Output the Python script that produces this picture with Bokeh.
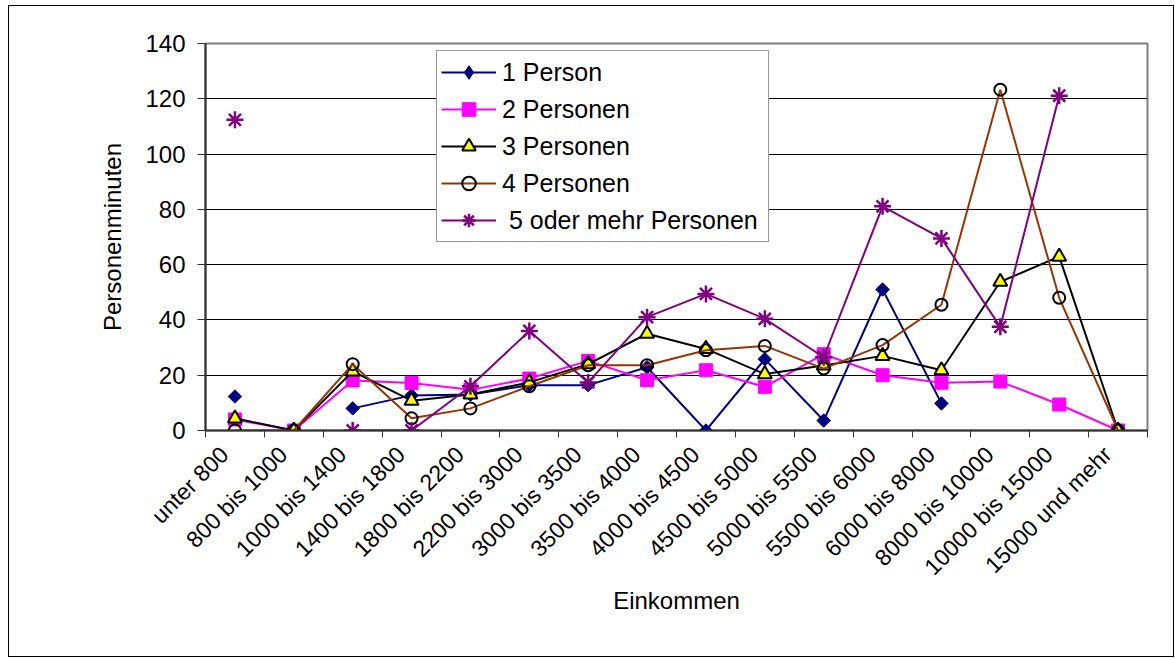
import math
import numpy as np
from bokeh.plotting import figure
from bokeh.models import FixedTicker, Range1d, Legend, LegendItem
from bokeh.embed import file_html
from bokeh.resources import INLINE

categories = ["unter 800", "800 bis 1000", "1000 bis 1400", "1400 bis 1800",
              "1800 bis 2200", "2200 bis 3000", "3000 bis 3500", "3500 bis 4000",
              "4000 bis 4500", "4500 bis 5000", "5000 bis 5500", "5500 bis 6000",
              "6000 bis 8000", "8000 bis 10000", "10000 bis 15000", "15000 und mehr"]

person1 = [12.3, None, 8.0, 12.7, 13.0, 16.4, 16.4, 22.9, 0.0, 25.8, 3.6, 51.0, 9.8, None, None, None]
person2 = [4.0, 0.0, 18.1, 17.2, 14.7, 18.8, 25.2, 18.2, 21.8, 15.8, 27.6, 20.0, 17.3, 17.7, 9.4, 0.0]
person3 = [4.4, 0.0, 21.4, 10.8, 13.0, 17.4, 24.0, 35.0, 29.5, 20.4, 23.5, 27.0, 21.8, 53.8, 62.9, 0.0]
person4 = [0.0, 0.0, 24.0, 4.4, 8.0, 16.0, 23.6, 23.6, 29.0, 30.6, 22.4, 30.9, 45.5, 123.3, 48.0, 0.0]
person5 = [112.4, None, 0.0, 0.0, 16.0, 36.0, 17.4, 41.0, 49.4, 40.4, 26.5, 81.1, 69.5, 37.5, 121.1, None]

series_names = ["1 Person", "2 Personen", "3 Personen", "4 Personen", " 5 oder mehr Personen"]

FONT = "Liberation Sans"
TXT = "black"

def arr(v):
    return np.array([np.nan if a is None else a for a in v], dtype=float)

x = np.arange(len(categories), dtype=float)

p = figure(width=1166, height=652, output_backend="svg", toolbar_location=None,
           x_range=Range1d(-0.5, len(categories) - 0.5), y_range=Range1d(0, 140),
           min_border_left=196, min_border_right=28, min_border_top=37, min_border_bottom=228)
p.styles = {"border": "1px solid black", "margin-left": "8px", "margin-top": "5px"}
p.background_fill_color = "white"
p.border_fill_color = "white"
p.outline_line_color = "#808080"
p.outline_line_width = 2

# grid
p.xgrid.grid_line_color = None
p.ygrid.grid_line_color = "black"
p.ygrid.grid_line_width = 1
p.ygrid.ticker = FixedTicker(ticks=[20, 40, 60, 80, 100, 120])

# y axis
p.yaxis.ticker = FixedTicker(ticks=[0, 20, 40, 60, 80, 100, 120, 140])
p.yaxis.axis_label = "Personenminuten"
p.yaxis.axis_label_text_font = FONT
p.yaxis.axis_label_text_font_size = "24px"
p.yaxis.axis_label_text_font_style = "normal"
p.yaxis.axis_label_text_color = TXT
p.yaxis.axis_label_standoff = 16
p.yaxis.major_label_text_font = FONT
p.yaxis.major_label_text_font_size = "24px"
p.yaxis.major_label_text_color = TXT
p.yaxis.major_label_standoff = 12
p.yaxis.major_tick_out = 8
p.yaxis.major_tick_in = 0
p.yaxis.minor_tick_out = 0
p.yaxis.minor_tick_in = 0
p.yaxis.axis_line_color = "#333333"
p.yaxis.axis_line_width = 2
p.yaxis.major_tick_line_color = "#333333"

# x axis: labels placed slightly left of the category centre, ticks at boundaries
label_pos = [round(i - 0.18, 2) for i in range(len(categories))]
p.xaxis.ticker = FixedTicker(ticks=label_pos,
                             minor_ticks=[i - 0.5 for i in range(len(categories) + 1)])
p.xaxis.major_label_overrides = {pos: c for pos, c in zip(label_pos, categories)}
p.xaxis.major_label_orientation = math.pi / 4
p.xaxis.major_label_text_font = FONT
p.xaxis.major_label_text_font_size = "23px"
p.xaxis.major_label_text_color = TXT
p.xaxis.major_tick_out = 0
p.xaxis.major_tick_in = 0
p.xaxis.minor_tick_out = 7
p.xaxis.minor_tick_in = 0
p.xaxis.minor_tick_line_color = "#333333"
p.xaxis.axis_line_color = "#333333"
p.xaxis.axis_line_width = 2
p.xaxis.major_label_standoff = 13
p.xaxis.axis_label = "Einkommen"
p.xaxis.axis_label_text_font = FONT
p.xaxis.axis_label_text_font_size = "24px"
p.xaxis.axis_label_text_font_style = "normal"
p.xaxis.axis_label_text_color = TXT
p.xaxis.axis_label_standoff = -5

items = []
nan_y = [np.nan]

r1l = p.line(x, arr(person1), line_color="#000080", line_width=2)
p.scatter(x, arr(person1), marker="square", angle=math.pi / 4, size=9.5,
          fill_color="#000080", line_color="#000080")
r1k = p.scatter([0.0], nan_y, marker="diamond", size=17,
                fill_color="#000080", line_color="#000080")
items.append(LegendItem(label=series_names[0], renderers=[r1l, r1k]))

r2l = p.line(x, arr(person2), line_color="#FF00FF", line_width=2)
r2m = p.scatter(x, arr(person2), marker="square", size=13,
                fill_color="#FF00FF", line_color="#FF00FF")
items.append(LegendItem(label=series_names[1], renderers=[r2l, r2m]))

r3l = p.line(x, arr(person3), line_color="black", line_width=2)
r3m = p.scatter(x, arr(person3), marker="triangle", size=14,
                fill_color="#FFFF00", line_color="black", line_width=2)
items.append(LegendItem(label=series_names[2], renderers=[r3l, r3m]))

r4l = p.line(x, arr(person4), line_color="#993300", line_width=2)
r4m = p.scatter(x, arr(person4), marker="circle", size=12,
                fill_color=None, line_color="black", line_width=2)
items.append(LegendItem(label=series_names[3], renderers=[r4l, r4m]))

r5l = p.line(x, arr(person5), line_color="#800080", line_width=2)
r5m = p.scatter(x, arr(person5), marker="asterisk", size=17,
                line_color="#800080", line_width=2.5)
items.append(LegendItem(label=series_names[4], renderers=[r5l, r5m]))

legend = Legend(items=items, location=(231, 188))
legend.label_text_font = FONT
legend.label_text_font_size = "25px"
legend.label_text_color = TXT
legend.glyph_width = 55
legend.glyph_height = 34
legend.label_height = 29
legend.label_width = 262
legend.label_standoff = 6
legend.spacing = 3
legend.padding = 4
legend.margin = 0
legend.border_line_color = "#333333"
legend.border_line_width = 1
legend.background_fill_color = "white"
legend.background_fill_alpha = 1
p.add_layout(legend, "center")

open("out.html", "w").write(file_html(p, INLINE))
